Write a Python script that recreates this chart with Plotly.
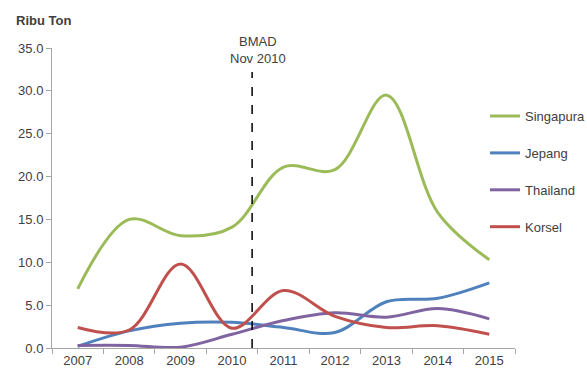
import plotly.graph_objects as go

# Annual volumes (thousand tonnes) by destination country
years = ["2007", "2008", "2009", "2010", "2011", "2012", "2013", "2014", "2015"]
singapura = [6.9, 15.0, 13.1, 14.1, 21.1, 20.8, 29.5, 15.8, 10.3]
jepang = [0.2, 2.0, 2.9, 3.0, 2.4, 1.8, 5.4, 5.8, 7.6]
thailand = [0.3, 0.3, 0.1, 1.6, 3.2, 4.1, 3.6, 4.6, 3.4]
korsel = [2.4, 2.1, 9.8, 2.3, 6.7, 3.7, 2.4, 2.6, 1.6]

y_ticks = [0, 5, 10, 15, 20, 25, 30, 35]
y_tick_text = ["0.0", "5.0", "10.0", "15.0", "20.0", "25.0", "30.0", "35.0"]

# Policy marker position (between 2010 and 2011)
marker_x = 3.39
marker_top = 32.2

FONT = "Liberation Sans, Arial, sans-serif"
TXT = "#404040"
FS = 13

series = [
    ("Singapura", singapura, "#9BBB59"),
    ("Jepang", jepang, "#4F81BD"),
    ("Thailand", thailand, "#8064A2"),
    ("Korsel", korsel, "#C0504D"),
]

# plot area in pixels
L, R, T, B = 52, 515, 48, 347.7
PW, PH = R - L, B - T

fig = go.Figure()
for i, (name, vals, color) in enumerate(series):
    fig.add_trace(go.Scatter(
        x=years, y=vals, name=name, mode="lines",
        line=dict(color=color, width=3, shape="spline", smoothing=1.0),
        legendgroup=str(i),
    ))

fig.add_shape(type="line", xref="x", yref="y",
              x0=marker_x, x1=marker_x, y0=0, y1=marker_top,
              line=dict(color="black", width=1.5, dash="dash"))

fig.add_annotation(x=3.5, y=marker_top, xref="x", yref="y",
                   text="BMAD<br>Nov 2010", showarrow=False,
                   yanchor="bottom", yshift=4,
                   font=dict(family=FONT, size=FS, color=TXT))

fig.add_annotation(x=(14 - L) / PW, y=(B - 21) / PH,
                   xref="paper", yref="paper",
                   xanchor="left", yanchor="middle",
                   text="<b>Ribu Ton</b>", showarrow=False,
                   font=dict(family=FONT, size=FS, color=TXT))

fig.update_layout(
    width=587, height=378,
    margin=dict(l=L, r=587 - R, t=T, b=378 - B, pad=0, autoexpand=False),
    paper_bgcolor="white", plot_bgcolor="white",
    font=dict(family=FONT, size=FS, color=TXT),
    legend=dict(
        x=(485 - L) / PW, y=(B - 101) / PH,
        xanchor="left", yanchor="top",
        font=dict(family=FONT, size=FS, color=TXT),
        tracegroupgap=17, bgcolor="rgba(0,0,0,0)",
    ),
    xaxis=dict(
        type="category", range=[-0.5, 8.5],
        tickson="boundaries", ticks="outside", ticklen=5,
        tickcolor="#A6A6A6", showline=True, linecolor="#A6A6A6",
        linewidth=1, showgrid=False, zeroline=False,
        tickfont=dict(family=FONT, size=FS, color=TXT),
    ),
    yaxis=dict(
        range=[0, 35], tickvals=y_ticks, ticktext=y_tick_text,
        ticks="outside", ticklen=5, tickcolor="#A6A6A6",
        showline=True, linecolor="#A6A6A6", linewidth=1,
        showgrid=False, zeroline=False,
        tickfont=dict(family=FONT, size=FS, color=TXT),
    ),
)

fig.write_html("out.html")
